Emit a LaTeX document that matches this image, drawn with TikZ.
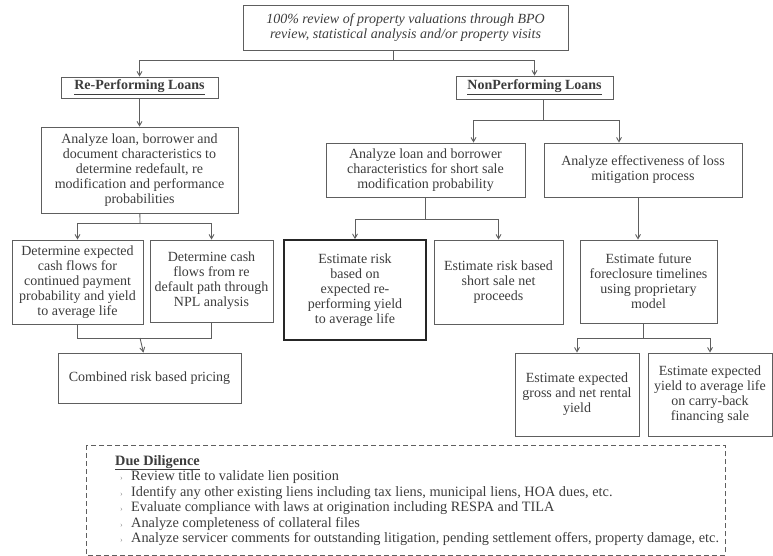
\documentclass[tikz,border=0pt]{standalone}
\usepackage{fontspec}
\setmainfont{Liberation Serif}
\usetikzlibrary{arrows}
\definecolor{boxgray}{HTML}{5E5E5E}
\definecolor{txtgray}{HTML}{3C3C3C}
\definecolor{bulgray}{HTML}{8A8A8A}
\tikzstyle{box} = [rectangle, draw=boxgray, line width=0.9pt, align=center, inner sep=1pt, text=txtgray, font=\fontsize{14}{15}\selectfont]
\tikzstyle{line} = [draw=boxgray, line width=0.9pt]
\tikzstyle{arrow} = [line, ->, >=angle 60]
\tikzstyle{listtext} = [align=left, inner sep=0, text=txtgray, font=\fontsize{14.3}{15.5}\selectfont]
\newcommand{\ddbul}{\hspace*{5pt}\makebox[11pt][l]{\color{bulgray}\fontsize{8}{8}\selectfont ›}}

\begin{document}
\begin{tikzpicture}[x=1pt,y=-1pt]
\useasboundingbox (0,0) rectangle (773,556);

% top
\node[box, minimum width=325pt, minimum height=45pt, font=\fontsize{14}{15}\selectfont\itshape] (top) at (405.5,27.5)
	{100\% review of property valuations through BPO\\ review, statistical analysis and/or property visits};

% re-performing side
\node[box, minimum width=157pt, minimum height=21pt] (rpl) at (139.5,87.5) {\textbf{\underline{Re-Performing Loans}}};
\node[box, minimum width=197pt, minimum height=86pt] (ranal) at (139.5,170)
	{Analyze loan, borrower and\\ document characteristics to\\ determine redefault, re\\ modification and performance\\ probabilities};
\node[box, minimum width=131pt, minimum height=84pt] (rexp) at (77.5,282)
	{Determine expected\\ cash flows for\\ continued payment\\ probability and yield\\ to average life};
\node[box, minimum width=123pt, minimum height=82pt] (rcash) at (211.5,281)
	{Determine cash\\ flows from re\\ default path through\\ NPL analysis};
\node[box, minimum width=183pt, minimum height=50pt] (comb) at (149.5,378) {Combined risk based pricing};

% non-performing side
\node[box, minimum width=157pt, minimum height=23pt] (npl) at (534.5,87.5) {\textbf{\underline{NonPerforming Loans}}};
\node[box, minimum width=199pt, minimum height=54pt] (nanal) at (425.5,170)
	{Analyze loan and borrower\\ characteristics for short sale\\ modification probability};
\node[box, minimum width=198pt, minimum height=54pt] (nloss) at (643,170)
	{Analyze effectiveness of loss\\ mitigation process};
\node[box, minimum width=142pt, minimum height=100pt, draw=black!85, line width=1.8pt] (nrisk) at (355,290)
	{Estimate risk\\ based on\\ expected re-\\ performing yield\\ to average life};
\node[box, minimum width=129pt, minimum height=84pt] (nshort) at (498.5,282)
	{Estimate risk based\\ short sale net\\ proceeds};
\node[box, minimum width=137pt, minimum height=83pt] (nfore) at (648.5,281.5)
	{Estimate future\\ foreclosure timelines\\ using proprietary\\ model};
\node[box, minimum width=124pt, minimum height=83pt] (ngross) at (577,394.5)
	{Estimate expected\\ gross and net rental\\ yield};
\node[box, minimum width=124pt, minimum height=83pt] (nyield) at (710,394.5)
	{Estimate expected\\ yield to average life\\ on carry-back\\ financing sale};

% junctions
\coordinate (j0) at (393,60);
\coordinate (j1) at (140,223);
\coordinate (j2) at (140,338);
\coordinate (j3) at (543,120);
\coordinate (j4) at (425.5,219);
\coordinate (j5) at (643,338);

% connectors
\draw[line] (top.south -| j0) -- (j0);
\foreach \n in {rpl,npl}
	\draw[arrow] (j0) -| (\n);
\draw[arrow] (rpl) -- (ranal);
\draw[line] (ranal) -- (j1);
\foreach \n in {rexp,rcash}
	\draw[arrow] (j1) -| (\n);
\foreach \n in {rexp,rcash}
	\draw[line] (\n) |- (j2);
\draw[arrow] (j2) -- (comb);

\draw[line] (npl.south -| j3) -- (j3);
\draw[arrow] (j3) -| ([xshift=48pt]nanal.north);
\draw[arrow] (j3) -| ([xshift=-24pt]nloss.north);
\draw[line] (nanal) -- (j4);
\foreach \n in {nrisk,nshort}
	\draw[arrow] (j4) -| (\n);
\draw[arrow] ([xshift=-5pt]nloss.south) -- ([xshift=-5pt]nloss.south |- nfore.north);
\draw[line] (nfore.south -| j5) -- (j5);
\foreach \n in {ngross,nyield}
	\draw[arrow] (j5) -| (\n);

% due diligence
\draw[boxgray, line width=0.9pt, dashed, dash pattern=on 5pt off 3pt] (86,445) rectangle (725,555);
\node[listtext, anchor=north west] (ddtext) at (115,455)
	{\textbf{\underline{Due Diligence}}\\
	\ddbul Review title to validate lien position\\
	\ddbul Identify any other existing liens including tax liens, municipal liens, HOA dues, etc.\\
	\ddbul Evaluate compliance with laws at origination including RESPA and TILA\\
	\ddbul Analyze completeness of collateral files\\
	\ddbul Analyze servicer comments for outstanding litigation, pending settlement offers, property damage, etc.};
\end{tikzpicture}
\end{document}
